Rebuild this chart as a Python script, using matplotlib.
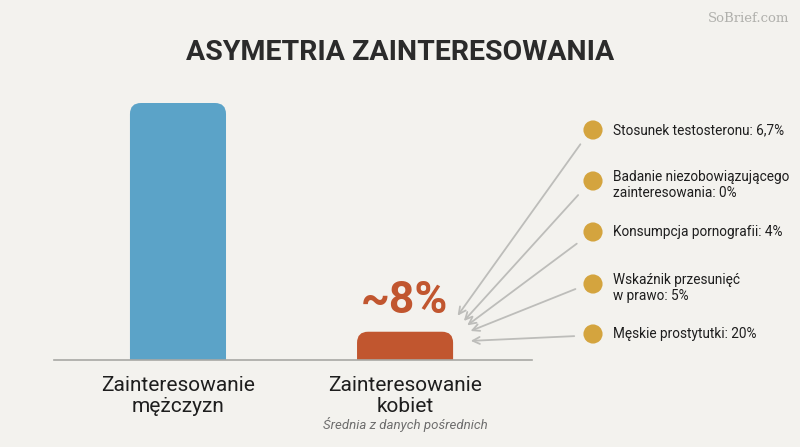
import matplotlib
matplotlib.use("Agg")
import matplotlib.pyplot as plt
from matplotlib.patches import FancyBboxPatch

# data
categories = ["Zainteresowanie\nmężczyzn", "Zainteresowanie\nkobiet"]
bar_values = [100, 11]
bar_colors = ["#5BA3C8", "#C1562F"]
women_label = "~8%"
women_note = "Średnia z danych pośrednich"
sources = [
    "Stosunek testosteronu: 6,7%",
    "Badanie niezobowiązującego\nzainteresowania: 0%",
    "Konsumpcja pornografii: 4%",
    "Wskaźnik przesunięć\nw prawo: 5%",
    "Męskie prostytutki: 20%",
]
title = "ASYMETRIA ZAINTERESOWANIA"

BG = "#F3F2EE"
W, H = 800, 447
plt.rcParams['font.family'] = ['Roboto', 'DejaVu Sans']

fig = plt.figure(figsize=(W / 100, H / 100), dpi=100, facecolor=BG)

# bar axes (pixel placement of the plotting area)
left, right, base, top = 54, 532, 360, 90
ax = fig.add_axes([left / W, (H - base) / H, (right - left) / W, (base - top) / H])
ax.set_facecolor("none")
ax.set_xlim(-0.546, 1.559)
ax.set_ylim(0, 105.06)
for s in ["top", "right", "left"]:
    ax.spines[s].set_visible(False)
ax.spines["bottom"].set_color("#A8A8A4")
ax.spines["bottom"].set_linewidth(1.2)
ax.set_xticks([])
ax.set_yticks([])

bars = ax.bar(range(len(bar_values)), bar_values, width=0.423, color=bar_colors)

# replace plain bars with top-rounded ones
fig.canvas.draw()
px_x = ax.transData.transform((1, 0))[0] - ax.transData.transform((0, 0))[0]
px_y = ax.transData.transform((0, 1))[1] - ax.transData.transform((0, 0))[1]
radius_px = 11
for b in bars:
    b.set_visible(False)
    r = radius_px / px_x
    extra = 20 / px_y
    p = FancyBboxPatch((b.get_x(), -extra), b.get_width(), b.get_height() + extra,
                       boxstyle=f"round,pad=0,rounding_size={r}",
                       mutation_aspect=px_x / px_y,
                       facecolor=b.get_facecolor(), edgecolor="none", clip_on=True)
    ax.add_patch(p)

# overlay axes in pixel coordinates for text and callouts
ov = fig.add_axes([0, 0, 1, 1])
ov.set_xlim(0, W)
ov.set_ylim(H, 0)
ov.axis("off")
ov.patch.set_alpha(0)

ov.text(400, 52, title, ha="center", va="center", fontsize=20.5, fontweight="bold",
        color="#2B2B2B")
ov.text(789, 19, "SoBrief.com", ha="right", va="center", fontsize=9.5,
        family="DejaVu Serif", color="#B0B0AC")

# category labels
cat_x = [178, 405]
for x, lab in zip(cat_x, categories):
    ov.text(x, 396, lab, ha="center", va="center", fontsize=15, color="#1E1E1E",
            linespacing=1.15)
ov.text(405, 424, women_note, ha="center", va="center", fontsize=9.5,
        style="italic", color="#6E6E6E")
ov.text(404, 301, women_label, ha="center", va="center", fontsize=32,
        fontweight="bold", color="#C1562F")

# callouts
dot_y = [130, 181, 232, 284, 334]
starts = [(582, 142), (580, 193), (579, 242), (578, 288), (577, 336)]
ends = [(456, 318), (462, 323), (465, 327), (468, 332), (468, 341)]
for y, lab, s, e in zip(dot_y, sources, starts, ends):
    ov.scatter([593], [y], s=190, color="#D4A43E", edgecolor="none", zorder=3)
    ov.text(613, y + (4 if "\n" in lab else 0), lab, ha="left", va="center",
            fontsize=9.8, color="#1E1E1E", linespacing=1.15)
    ov.annotate("", xy=e, xytext=s,
                arrowprops=dict(arrowstyle="->,head_length=0.5,head_width=0.25",
                                color="#BDBDBA", lw=1.3))

fig.savefig("out.png", dpi=100, facecolor=BG)
